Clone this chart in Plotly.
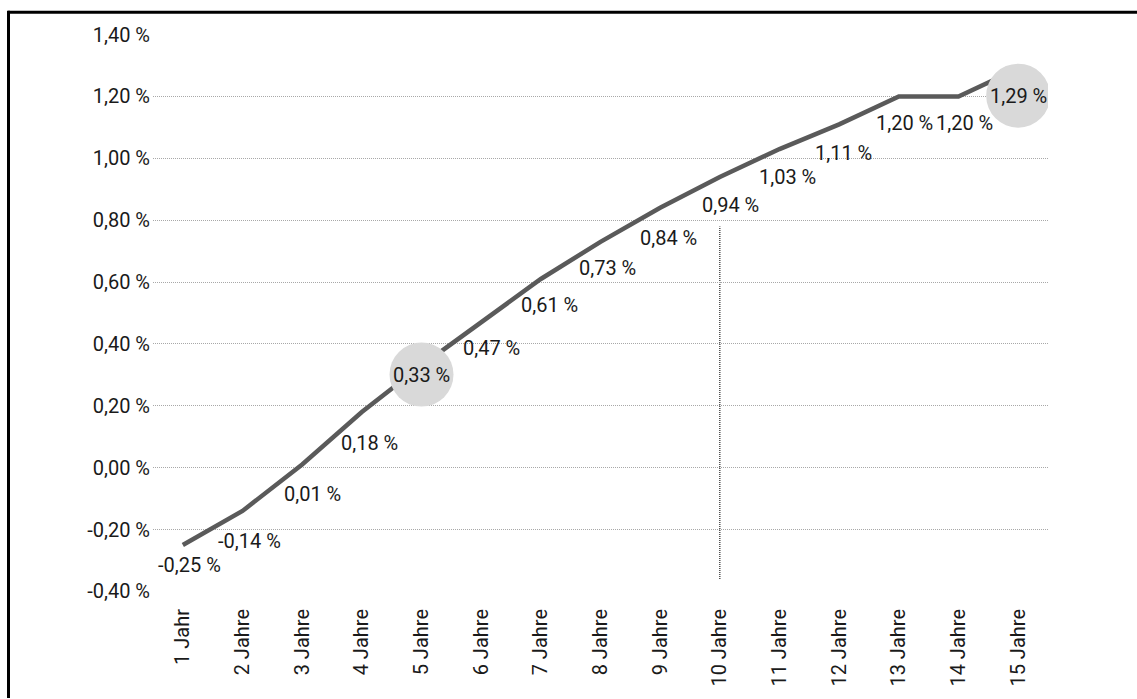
import plotly.graph_objects as go

# ---- data ----
categories = ["1 Jahr", "2 Jahre", "3 Jahre", "4 Jahre", "5 Jahre", "6 Jahre", "7 Jahre",
              "8 Jahre", "9 Jahre", "10 Jahre", "11 Jahre", "12 Jahre", "13 Jahre",
              "14 Jahre", "15 Jahre"]
yields = [-0.25, -0.14, 0.01, 0.18, 0.33, 0.47, 0.61, 0.73, 0.84, 0.94, 1.03, 1.11, 1.20, 1.20, 1.29]
highlighted = ["5 Jahre", "15 Jahre"]
marker_category = "10 Jahre"
marker_range = [-0.36, 0.78]
y_ticks = [-0.40, -0.20, 0.00, 0.20, 0.40, 0.60, 0.80, 1.00, 1.20, 1.40]

# ---- layout constants ----
W, H = 1137, 699
ML, MR, MT, MB = 153, 89, 34, 102
FONT = "Roboto, 'Liberation Sans', sans-serif"
FS = 20
TXT = "#1a1a1a"
LINE = "#5a5a5a"
# label offsets in pixels (dx, dy; dy positive = down)
label_dx = [7, 7, 10, 8, 0, 10, 9, 7, 8, 11, 8, 4, 6, 6, 0]
label_dy = [20, 30, 29, 31, 9, 26, 26, 26, 30, 28, 28, 29, 27, 27, 27]
CIRCLE_R = 32


def fmt(v):
    return f"{v:.2f} %".replace(".", ",")


x_idx = list(range(len(categories)))

fig = go.Figure()
fig.add_trace(go.Scatter(
    x=x_idx, y=yields, mode="lines",
    line=dict(color=LINE, width=4.5),
    hoverinfo="skip", showlegend=False,
))

shapes = []
# vertical dotted marker at 10 Jahre
mi = categories.index(marker_category)
shapes.append(dict(type="line", xref="x", yref="y", x0=mi, x1=mi,
                   y0=marker_range[0], y1=marker_range[1],
                   line=dict(color="#222222", width=1.2, dash="1px,1px"), layer="below"))

annotations = []
for i, (c, v) in enumerate(zip(categories, yields)):
    annotations.append(dict(
        x=i, y=v, xref="x", yref="y", text=fmt(v), showarrow=False,
        xanchor="center", yanchor="middle",
        xshift=label_dx[i], yshift=-label_dy[i],
        font=dict(family=FONT, size=FS, color=TXT),
    ))
    if c in highlighted:
        shapes.append(dict(
            type="circle", xref="x", yref="y", xsizemode="pixel", ysizemode="pixel",
            xanchor=i, yanchor=v,
            x0=label_dx[i] - CIRCLE_R, x1=label_dx[i] + CIRCLE_R,
            y0=-label_dy[i] - CIRCLE_R, y1=-label_dy[i] + CIRCLE_R,
            fillcolor="#d9d9d9", line=dict(width=0), layer="above",
        ))

# frame: top and left black border
pw = W - ML - MR
ph = H - MT - MB
def px_x(px):
    return (px - ML) / pw
def px_y(py):
    return (H - MB - py) / ph

shapes.append(dict(type="line", xref="paper", yref="paper",
                   x0=px_x(8), x1=px_x(W + 5), y0=px_y(12), y1=px_y(12),
                   line=dict(color="black", width=3)))
shapes.append(dict(type="line", xref="paper", yref="paper",
                   x0=px_x(8.5), x1=px_x(8.5), y0=px_y(10.5), y1=px_y(H + 5),
                   line=dict(color="black", width=3)))

fig.update_layout(
    width=W, height=H,
    margin=dict(l=ML, r=MR, t=MT, b=MB, pad=0),
    paper_bgcolor="white", plot_bgcolor="white",
    separators=", ",
    font=dict(family=FONT, size=FS, color=TXT),
    shapes=shapes, annotations=annotations,
    showlegend=False,
    xaxis=dict(
        range=[-0.5, len(categories) - 0.5],
        tickmode="array", tickvals=x_idx, ticktext=categories,
        tickangle=-90, showgrid=False, zeroline=False, showline=False,
        ticks="", ticklabelstandoff=12,
        tickfont=dict(family=FONT, size=FS, color=TXT),
        fixedrange=True,
    ),
    yaxis=dict(
        range=[y_ticks[0] - 0.002, y_ticks[-1] + 0.002],
        tickmode="array", tickvals=y_ticks,
        ticktext=[fmt(t) for t in y_ticks],
        showgrid=True, gridcolor="#a8a8a8", griddash="1px,1px", gridwidth=1,
        zeroline=False, showline=False, ticks="", ticklabelstandoff=2,
        tickfont=dict(family=FONT, size=FS, color=TXT),
        fixedrange=True,
    ),
)

fig.write_html("out.html", config=dict(displayModeBar=False))
